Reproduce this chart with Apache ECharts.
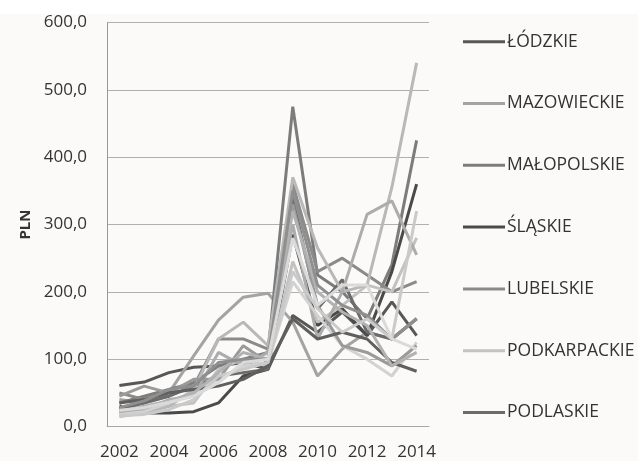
<!DOCTYPE html>
<html>
<head>
<meta charset="utf-8">
<script src="https://cdn.jsdelivr.net/npm/echarts@6/dist/echarts.min.js"></script>
<style>
html,body{margin:0;padding:0;background:#fcfaf8;}
#chart{width:638px;height:461px;}
</style>
</head>
<body>
<div id="chart"></div>
<script>
const years = ['2002','2003','2004','2005','2006','2007','2008','2009','2010','2011','2012','2013','2014'];
const yTicks = [0, 100, 200, 300, 400, 500, 600];
const legendNames = ['ŁÓDZKIE','MAZOWIECKIE','MAŁOPOLSKIE','ŚLĄSKIE','LUBELSKIE','PODKARPACKIE','PODLASKIE'];

const lodzkie      = [61, 66, 80, 88, 90, 95, 85, 165, 140, 170, 135, 185, 135];
const mazowieckie  = [40, 35, 50, 105, 158, 192, 198, 155, 75, 115, 140, 130, 160];
const malopolskie  = [35, 45, 55, 65, 90, 100, 110, 475, 225, 200, 160, 240, 425];
const slaskie      = [30, 20, 20, 22, 35, 75, 85, 285, 150, 175, 135, 230, 360];
const lubelskie    = [50, 40, 45, 60, 130, 130, 115, 360, 230, 250, 225, 200, 215];
const podkarpackie = [20, 25, 30, 35, 85, 100, 90, 245, 155, 180, 210, 200, 280];
const podlaskie    = [25, 35, 45, 60, 75, 80, 85, 340, 175, 218, 140, 130, 160];
const region8      = [15, 20, 30, 55, 130, 155, 120, 370, 265, 200, 210, 355, 540];
const region9      = [20, 25, 40, 45, 110, 90, 110, 300, 130, 200, 315, 335, 255];
const region10     = [18, 22, 35, 50, 70, 90, 95, 215, 165, 120, 100, 75, 125];
const region11     = [45, 60, 50, 70, 70, 120, 95, 330, 180, 120, 110, 90, 120];
const region12     = [35, 40, 50, 55, 60, 70, 90, 160, 130, 140, 130, 95, 82];
const region13     = [22, 30, 38, 50, 80, 110, 100, 320, 200, 170, 150, 90, 110];
const region14     = [28, 38, 55, 60, 95, 100, 100, 350, 210, 180, 165, 130, 160];
const region15     = [16, 18, 25, 40, 75, 85, 95, 230, 175, 140, 160, 130, 320];
const region16     = [24, 28, 36, 45, 65, 95, 100, 280, 180, 210, 210, 130, 115];

const seriesDefs = [
  ['ŁÓDZKIE', lodzkie, '#575757'],
  ['MAZOWIECKIE', mazowieckie, '#a3a3a3'],
  ['MAŁOPOLSKIE', malopolskie, '#7c7c7c'],
  ['ŚLĄSKIE', slaskie, '#4a4a4a'],
  ['LUBELSKIE', lubelskie, '#8a8a8a'],
  ['PODKARPACKIE', podkarpackie, '#c2c2c2'],
  ['PODLASKIE', podlaskie, '#6b6b6b'],
  ['R8', region8, '#b8b8b8'],
  ['R9', region9, '#acacac'],
  ['R10', region10, '#d2d2d2'],
  ['R11', region11, '#9a9a9a'],
  ['R12', region12, '#5f5f5f'],
  ['R13', region13, '#b2b2b2'],
  ['R14', region14, '#8f8f8f'],
  ['R15', region15, '#cacaca'],
  ['R16', region16, '#dadada']
];

const chart = echarts.init(document.getElementById('chart'));
chart.setOption({
  backgroundColor: '#fcfaf8',
  animation: false,
  textStyle: { fontFamily: 'Open Sans' },
  graphic: [{ type: 'rect', left: 0, top: 0, shape: { width: 638, height: 14 }, style: { fill: '#ffffff' } }],
  grid: { left: 107, right: 209, top: 22.5, bottom: 34.5 },
  legend: {
    data: legendNames,
    orient: 'vertical',
    left: 463,
    top: 31.7,
    padding: 0,
    itemWidth: 42,
    itemHeight: 3,
    itemGap: 41.8,
    textStyle: { fontFamily: 'Open Sans', fontSize: 17.5, lineHeight: 20, color: '#333', padding: [0, 0, 0, -3] },
    icon: 'rect'
  },
  xAxis: {
    type: 'category',
    data: years,
    boundaryGap: true,
    axisLine: { show: true, lineStyle: { color: '#a8a8a8', width: 1 } },
    axisTick: { show: false },
    axisLabel: { interval: 1, color: '#333', fontSize: 17, fontFamily: 'Open Sans', margin: 17 }
  },
  yAxis: {
    type: 'value',
    min: yTicks[0],
    max: yTicks[yTicks.length - 1],
    interval: 100,
    name: 'PLN',
    nameLocation: 'middle',
    nameRotate: 90,
    nameGap: 74,
    nameTextStyle: { fontWeight: 'bold', fontSize: 15, color: '#333', fontFamily: 'Open Sans' },
    axisLine: { show: true, lineStyle: { color: '#999', width: 1 } },
    axisTick: { show: false },
    splitLine: { lineStyle: { color: '#b0b0b0', width: 1 } },
    axisLabel: { color: '#333', fontSize: 17, fontFamily: 'Open Sans', margin: 20,
      formatter: v => v.toFixed(1).replace('.', ',') }
  },
  series: seriesDefs.map(([n, d, c]) => ({
    name: n, type: 'line', data: d, symbol: 'none',
    lineStyle: { color: c, width: 3 }, itemStyle: { color: c }
  }))
});
</script>
</body>
</html>
